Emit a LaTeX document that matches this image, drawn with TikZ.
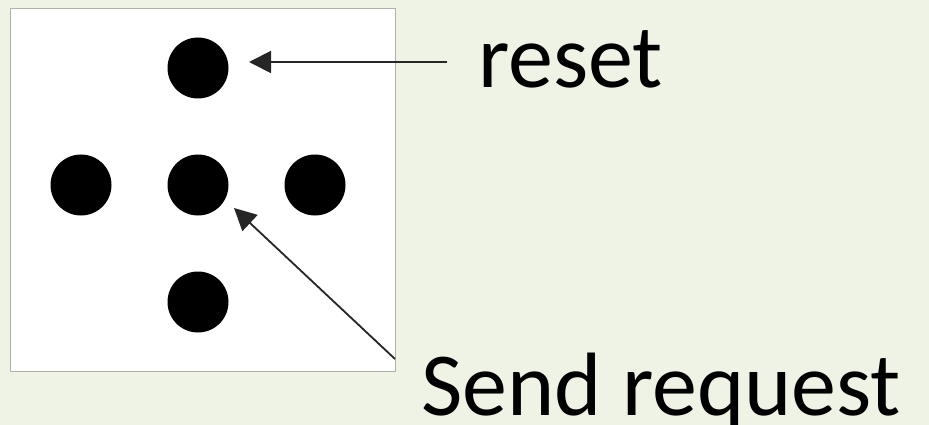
\documentclass[tikz,border=0pt]{standalone}
\usepackage{fontspec}
\setmainfont{Carlito}
\usetikzlibrary{arrows.meta}
\definecolor{paper}{RGB}{239,243,230}
\definecolor{frame}{RGB}{176,178,170}
\begin{document}
\begin{tikzpicture}[x=1pt,y=-1pt,
  dot/.style={circle,fill=black,minimum size=61pt,inner sep=0pt},
  pointer/.style={line width=1.8pt,draw=black!85,-{Triangle[length=22pt,width=22pt]}},
  caption/.style={anchor=base west,inner sep=0pt,font=\fontsize{90}{90}\selectfont}]
  % page and white panel
  \fill[paper] (0,0) rectangle (929,425);
  \useasboundingbox (0,0) rectangle (929,425);
  \draw[frame,fill=white,line width=0.8pt] (10,8) rectangle (395,371);
  % the five dots
  \node[dot] (top) at (198,68) {};
  \node[dot] (left) at (81,185) {};
  \node[dot] (mid) at (198,185) {};
  \node[dot] (right) at (315,185) {};
  \node[dot] (bottom) at (198,302) {};
  % labels
  \node[caption] (reset) at (478,88) {reset};
  \node[caption] (send) at (421,415) {Send request};
  % arrow ends
  \coordinate (resetfrom) at (447,62);
  \coordinate (resetto) at (249,62);
  \coordinate (sendfrom) at (395,359);
  \coordinate (sendto) at (234,208);
  \draw[pointer] (resetfrom) -- (resetto);
  \draw[pointer] (sendfrom) -- (sendto);
\end{tikzpicture}
\end{document}
